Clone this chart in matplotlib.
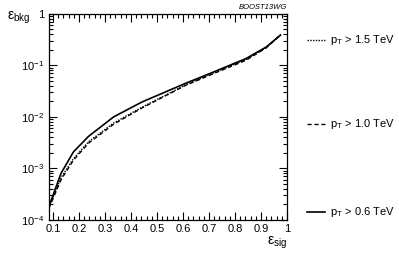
import numpy as np
import matplotlib
matplotlib.use("Agg")
import matplotlib.pyplot as plt
from matplotlib.ticker import MultipleLocator, LogLocator, NullFormatter, FixedLocator
from matplotlib.lines import Line2D

plt.rcParams['font.family'] = ['Liberation Sans', 'DejaVu Sans']
plt.rcParams['mathtext.fontset'] = 'custom'
plt.rcParams['mathtext.rm'] = 'Liberation Sans'
plt.rcParams['mathtext.it'] = 'Liberation Sans:italic'

# signal efficiency / background efficiency
eff_sig = [0.085, 0.131, 0.179, 0.237, 0.333, 0.443, 0.61, 0.713, 0.842, 0.92, 0.975]
bkg_06 = [1.85e-4, 8.0e-4, 2.1e-3, 4.2e-3, 1.0e-2, 1.96e-2, 4.5e-2, 7.3e-2, 0.136, 0.228, 0.39]
bkg_10 = [1.7e-4, 6.0e-4, 1.45e-3, 3.1e-3, 7.2e-3, 1.5e-2, 4.1e-2, 6.8e-2, 0.126, 0.22, 0.39]
bkg_15 = [1.75e-4, 6.6e-4, 1.55e-3, 3.3e-3, 7.6e-3, 1.55e-2, 4.2e-2, 7.0e-2, 0.13, 0.222, 0.39]
labels = ["$\\mathregular{p_T}$ > 1.5 TeV", "$\\mathregular{p_T}$ > 1.0 TeV", "$\\mathregular{p_T}$ > 0.6 TeV"]

fig = plt.figure(figsize=(3.99, 2.54), dpi=100)
ax = fig.add_axes([0.1228, 0.134, 0.5965, 0.811])

ax.plot(eff_sig, bkg_15, color='black', lw=1.0, ls=(0, (1, 1)))
ax.plot(eff_sig, bkg_10, color='black', lw=1.0, ls=(0, (3, 2)))
ax.plot(eff_sig, bkg_06, color='black', lw=1.2, ls='-')

ax.set_yscale('log')
ax.set_xlim(0.085, 1.0)
ax.set_ylim(1e-4, 1)
ax.xaxis.set_major_locator(FixedLocator([0.1, 0.2, 0.3, 0.4, 0.5, 0.6, 0.7, 0.8, 0.9, 1.0]))
ax.set_xticklabels(["0.1", "0.2", "0.3", "0.4", "0.5", "0.6", "0.7", "0.8", "0.9", "1"])
ax.xaxis.set_minor_locator(MultipleLocator(0.02))
ax.yaxis.set_minor_locator(LogLocator(base=10, subs=np.arange(2, 10), numticks=10))
ax.yaxis.set_minor_formatter(NullFormatter())
ax.set_yticks([1e-4, 1e-3, 1e-2, 1e-1, 1])
ax.set_yticklabels(["$\\mathregular{10^{-4}}$", "$\\mathregular{10^{-3}}$", "$\\mathregular{10^{-2}}$",
                    "$\\mathregular{10^{-1}}$", "1"])
ax.tick_params(which='both', direction='in', top=True, right=True, labelsize=8, width=0.8)
ax.tick_params(which='major', length=6)
ax.tick_params(which='minor', length=3)
ax.tick_params(axis='x', pad=3)
for s in ax.spines.values():
    s.set_linewidth(0.9)

fig.text(0.018, 0.93, "$\\mathregular{\\epsilon_{bkg}}$", fontsize=10, ha='left', va='center')
fig.text(0.72, 0.045, "$\\mathregular{\\epsilon_{sig}}$", fontsize=10, ha='right', va='center')
fig.text(0.72, 0.972, "BOOST13WG", fontsize=5.5, style='italic', ha='right', va='center')

# legend entries at the right
styles = [((0, (1, 1)), 1.0), ((0, (3, 2)), 1.0), ('-', 1.2)]
ypos = [0.843, 0.51, 0.165]
for (ls, lw), lab, yy in zip(styles, labels, ypos):
    fig.add_artist(Line2D([0.77, 0.815], [yy, yy], color='black', ls=ls, lw=lw,
                          transform=fig.transFigure))
    fig.text(0.828, yy, lab, fontsize=8, ha='left', va='center')

fig.savefig("out.png", dpi=100)
